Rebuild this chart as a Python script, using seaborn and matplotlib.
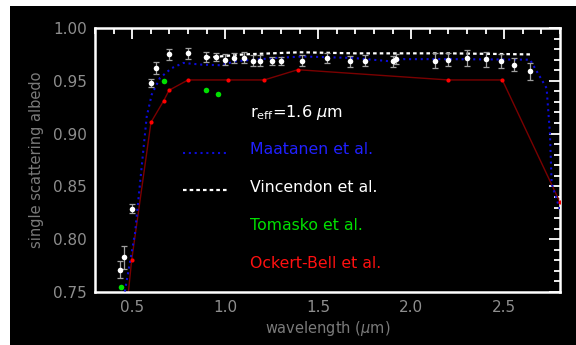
import numpy as np
import pandas as pd
import matplotlib
matplotlib.use("Agg")
import matplotlib.pyplot as plt
import seaborn as sns
from matplotlib.patches import Rectangle
from matplotlib.ticker import MultipleLocator

# ---- data ----
obs_wl = [0.436, 0.458, 0.497, 0.601, 0.628, 0.698, 0.800, 0.898, 0.949, 1.000,
          1.049, 1.099, 1.149, 1.189, 1.250, 1.300, 1.415, 1.549, 1.673, 1.750,
          1.900, 1.918, 2.128, 2.200, 2.302, 2.402, 2.481, 2.551, 2.639]
obs_val = [0.771, 0.783, 0.829, 0.948, 0.962, 0.975, 0.976, 0.9725, 0.9725, 0.970,
           0.9716, 0.972, 0.969, 0.969, 0.969, 0.969, 0.969, 0.9716, 0.9685, 0.969,
           0.9685, 0.9705, 0.969, 0.970, 0.9716, 0.9705, 0.9688, 0.9653, 0.959]
obs_err = [0.008, 0.011, 0.004, 0.0035, 0.006, 0.005, 0.005, 0.005, 0.004, 0.005,
           0.005, 0.005, 0.005, 0.005, 0.004, 0.004, 0.005, 0.005, 0.005, 0.005,
           0.005, 0.005, 0.007, 0.006, 0.008, 0.007, 0.007, 0.006, 0.008]

maatanen_wl = [0.455, 0.515, 0.551, 0.578, 0.605, 0.649, 0.712, 0.775, 0.874, 0.981,
               1.053, 1.268, 1.420, 1.689, 1.886, 1.958, 2.210, 2.639, 2.675, 2.728,
               2.746, 2.755, 2.800]
maatanen_val = [0.745, 0.8055, 0.8687, 0.916, 0.937, 0.9527, 0.962, 0.9669, 0.9653, 0.9647,
                0.9685, 0.9716, 0.973, 0.9716, 0.9685, 0.9705, 0.9705, 0.970, 0.959, 0.943,
                0.900, 0.853, 0.8277]

vincendon_wl = [0.90, 1.10, 1.40, 1.70, 2.20, 2.64]
vincendon_val = [0.972, 0.975, 0.977, 0.976, 0.976, 0.975]

tomasko_wl = [0.440, 0.669, 0.895, 0.963]
tomasko_val = [0.755, 0.9498, 0.941, 0.9375]

ockert_wl = [0.44, 0.497, 0.601, 0.669, 0.698, 0.800, 1.013, 1.210, 1.390, 2.200, 2.490, 2.800]
ockert_val = [0.682, 0.780, 0.9107, 0.931, 0.941, 0.9508, 0.9508, 0.9508, 0.9605, 0.9508, 0.9508, 0.835]

xticks = [0.5, 1.0, 1.5, 2.0, 2.5]
yticks = [0.75, 0.80, 0.85, 0.90, 0.95, 1.00]

# ---- figure ----
sns.set_style("dark")
plt.rcParams['font.family'] = ['DejaVu Sans']
W, H = 576, 345
fig = plt.figure(figsize=(W / 100, H / 100), dpi=100, facecolor="white")
fig.patches.append(Rectangle((10 / W, 0), (W - 10) / W, (H - 6) / H,
                             transform=fig.transFigure, facecolor="black",
                             edgecolor="none", zorder=-10))
ax = fig.add_axes([95 / W, (H - 292) / H, 465 / W, 264 / H])
ax.set_zorder(1)
ax.set_facecolor("black")

grey = "#8e8e8e"
blue = "#0c0cd8"

sns.lineplot(x=maatanen_wl, y=maatanen_val, ax=ax, sort=False, color=blue,
             lw=1.5, linestyle=(0, (1, 1.8)), zorder=3)
sns.lineplot(x=vincendon_wl, y=vincendon_val, ax=ax, sort=False, color="white",
             lw=1.6, linestyle=(0, (1.6, 1.4)), zorder=3)
sns.lineplot(x=ockert_wl, y=ockert_val, ax=ax, sort=False, color="#7a0000",
             lw=1.0, zorder=2)
sns.scatterplot(x=ockert_wl, y=ockert_val, ax=ax, color="#ff0000", s=9,
                linewidth=0, zorder=4)
sns.scatterplot(x=tomasko_wl, y=tomasko_val, ax=ax, color="#00e000", s=16,
                linewidth=0, zorder=4)
ax.errorbar(obs_wl, obs_val, yerr=obs_err, fmt="none", ecolor="#a0a0a0",
            elinewidth=0.9, capsize=2.5, capthick=0.9, zorder=4)
sns.scatterplot(x=obs_wl, y=obs_val, ax=ax, color="white", s=16,
                linewidth=0, zorder=5)

ax.set_xlim(0.3, 2.8)
ax.set_ylim(0.75, 1.00)
ax.set_xticks(xticks)
ax.set_xticklabels([f"{t:.1f}" for t in xticks])
ax.set_yticks(yticks)
ax.set_yticklabels([f"{t:.2f}" for t in yticks])
ax.xaxis.set_minor_locator(MultipleLocator(0.1))
ax.yaxis.set_minor_locator(MultipleLocator(0.01))
ax.tick_params(which="both", direction="in", top=True, right=True,
               color="white", width=1.3, labelcolor=grey, labelsize=11)
ax.tick_params(which="major", length=8, pad=6)
ax.tick_params(which="minor", length=4)
ax.grid(False)
for sp in ax.spines.values():
    sp.set_color("white")
    sp.set_linewidth(1.8)
    sp.set_visible(True)

ax.set_xlabel("wavelength ($\\mu$m)", color="#7a7a7a", fontsize=10.5, labelpad=3)
ax.set_ylabel("single scattering albedo", color="#7a7a7a", fontsize=10.5, labelpad=6)

# legend-like annotations
def fx(px):
    return px / W

def fy(py):
    return 1 - py / H

fs = 11.3
fig.text(fx(250), fy(112), "r$_{\\mathregular{eff}}$=1.6 $\\mu$m", color="white",
         fontsize=fs + 0.3, va="center", ha="left", zorder=5)
fig.text(fx(250), fy(150), "Maatanen et al.", color="#2020ff", fontsize=fs,
         va="center", ha="left", zorder=5)
fig.text(fx(250), fy(188), "Vincendon et al.", color="white", fontsize=fs,
         va="center", ha="left", zorder=5)
fig.text(fx(250), fy(226), "Tomasko et al.", color="#00e000", fontsize=fs,
         va="center", ha="left", zorder=5)
fig.text(fx(250), fy(263), "Ockert-Bell et al.", color="#ff1010", fontsize=fs,
         va="center", ha="left", zorder=5)
fig.add_artist(plt.Line2D([fx(183), fx(228)], [fy(152.5), fy(152.5)],
                          color=blue, lw=1.5, linestyle=(0, (1, 1.8)), zorder=5))
fig.add_artist(plt.Line2D([fx(183), fx(228)], [fy(190), fy(190)],
                          color="white", lw=1.6, linestyle=(0, (1.6, 1.4)), zorder=5))

fig.savefig("out.png", dpi=100, facecolor=fig.get_facecolor())
